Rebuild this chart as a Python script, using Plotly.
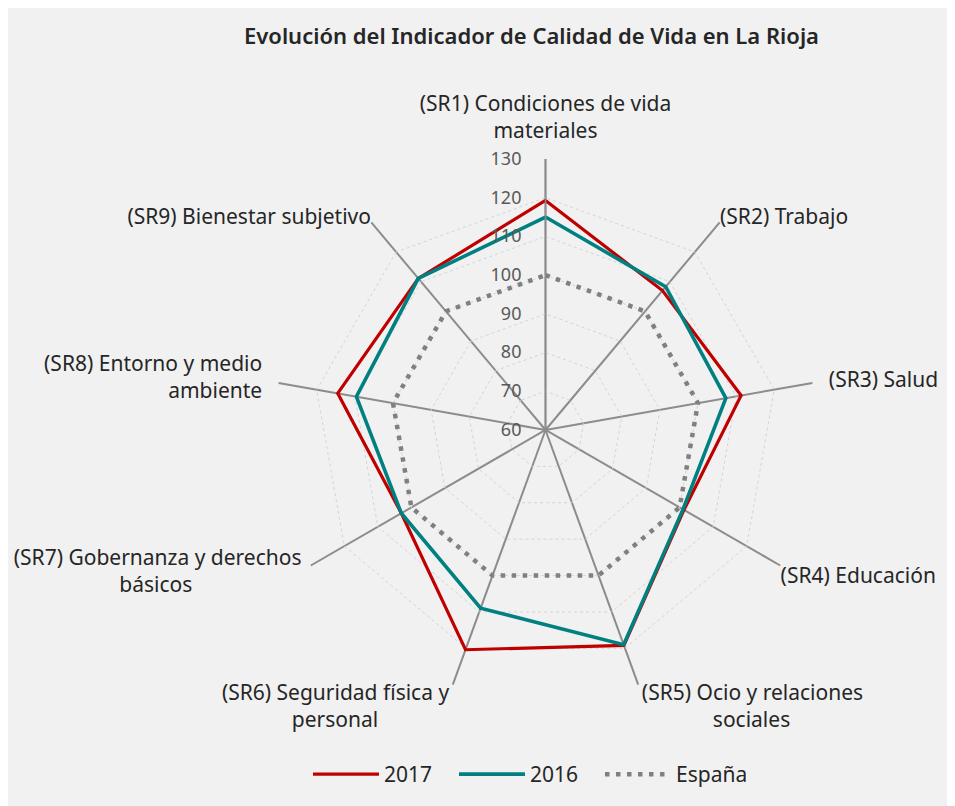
import plotly.graph_objects as go

categories = [
    "(SR1) Condiciones de vida<br>materiales",
    "(SR2) Trabajo",
    "(SR3) Salud",
    "(SR4) Educación",
    "(SR5) Ocio y relaciones<br>sociales",
    "(SR6) Seguridad física y<br>personal",
    "(SR7) Gobernanza y derechos<br>básicos",
    "(SR8) Entorno y medio<br>ambiente",
    "(SR9) Bienestar subjetivo",
]
values_2017 = [119.3, 107.0, 111.3, 101.3, 119.2, 120.4, 103.0, 114.5, 111.1]
values_2016 = [115.0, 108.3, 107.3, 101.0, 119.0, 109.0, 103.0, 109.6, 111.1]
values_espana = [100, 100, 100, 100, 100, 100, 100, 100, 100]
radial_ticks = [60, 70, 80, 90, 100, 110, 120, 130]

NB = "\u00a0"
# displayed label text (second lines padded so they look centred)
label_text = [
    "(SR1) Condiciones de vida<br>materiales",
    "(SR2) Trabajo",
    "(SR3) Salud",
    "(SR4) Educación",
    "(SR5) Ocio y relaciones<br>" + NB * 13 + "sociales",
    "(SR6) Seguridad física y<br>personal" + NB * 13,
    "(SR7) Gobernanza y derechos<br>básicos" + NB * 20,
    "(SR8) Entorno y medio<br>ambiente",
    "(SR9) Bienestar subjetivo",
]
# which label group each category belongs to (different label offsets)
group_main = [1, 3, 8]         # SR2, SR4, SR9
group_far = [0, 2, 7]          # SR1, SR3, SR8
group_low = [4, 5, 6]          # SR5, SR6, SR7

W, H = 947, 798
OFF = 8  # page body margin
SHIFT = 16
cx, cy, R = 545.5 - OFF, 430.0 - OFF, 271.4
side = 2 * R
ml = cx - R
mr = W - (cx + R)
mt = cy - R - SHIFT
mb = H - (cy + R)
ph = side + SHIFT


def px_x(px):
    return (px - OFF - ml) / side


def px_y(py):
    return (H - mb - (py - OFF)) / ph


def closed(v):
    return list(v) + [v[0]]


def texts_for(group):
    return [label_text[i] if i in group else "" for i in range(len(categories))]


cats_closed = closed(categories)
tick_text = [f"{v}{NB}{NB}{NB}\u2009" for v in radial_ticks]

fig = go.Figure()
fig.add_trace(go.Scatterpolar(
    r=closed(values_2017), theta=cats_closed, mode="lines", name="2017",
    line=dict(color="#c00000", width=3.2),
))
fig.add_trace(go.Scatterpolar(
    r=closed(values_2016), theta=cats_closed, mode="lines", name="2016",
    line=dict(color="#008080", width=3.6),
))
fig.add_trace(go.Scatterpolar(
    r=closed(values_espana), theta=cats_closed, mode="lines", name="España",
    line=dict(color="#808080", width=4.5, dash="4.5px,6.5px"),
))
for sub in ["polar2", "polar3"]:
    fig.add_trace(go.Scatterpolar(
        r=values_espana, theta=categories, mode="lines", subplot=sub,
        line=dict(width=0), opacity=0, showlegend=False, hoverinfo="skip",
    ))

dom_main = dict(x=[0, 1], y=[0, side / ph])
dom_low = dict(x=[0, 1], y=[SHIFT / ph, 1])
label_font = dict(size=21, color="#262626")


def overlay_polar(domain, group, ticklen):
    return dict(
        bgcolor="rgba(0,0,0,0)",
        gridshape="linear",
        domain=domain,
        radialaxis=dict(range=[60, 130], visible=False),
        angularaxis=dict(
            direction="clockwise", rotation=90,
            showline=False, showgrid=False,
            tickmode="array", tickvals=categories, ticktext=texts_for(group),
            tickfont=label_font,
            ticks="outside" if ticklen else "", ticklen=max(ticklen, 0.001),
            tickcolor="rgba(0,0,0,0)",
        ),
    )


fig.update_layout(
    width=W, height=H,
    margin=dict(l=ml, r=mr, t=mt, b=mb, autoexpand=False),
    paper_bgcolor="#f1f1f1",
    font=dict(family="Noto Sans", size=20, color="#262626"),
    title=dict(
        text="Evolución del Indicador de Calidad de Vida en La Rioja",
        x=(531.5 - OFF) / W, xref="container", xanchor="center",
        y=1 - (36 - OFF) / H, yref="container", yanchor="middle",
        font=dict(family="Noto Sans", size=22, color="#262626", weight=600),
    ),
    polar=dict(
        bgcolor="rgba(0,0,0,0)",
        gridshape="linear",
        domain=dom_main,
        radialaxis=dict(
            range=[60, 130], tickvals=radial_ticks, ticktext=tick_text,
            angle=90, tickangle=90,
            side="counterclockwise",
            showline=True, linecolor="#8c8c8c", linewidth=1.5,
            gridcolor="#d4d4d4", griddash="dot", gridwidth=1.2,
            tickfont=dict(size=18, color="#595959"), ticks="",
        ),
        angularaxis=dict(
            direction="clockwise", rotation=90,
            showline=False,
            gridcolor="#8c8c8c", gridwidth=1.5,
            tickmode="array", tickvals=categories,
            ticktext=texts_for(group_main),
            tickfont=label_font, ticks="",
        ),
    ),
    polar2=overlay_polar(dom_main, group_far, 12),
    polar3=overlay_polar(dom_low, group_low, 6),
    legend=dict(
        orientation="h", x=px_x(527), xanchor="center",
        y=px_y(775), yanchor="middle",
        font=dict(size=21, color="#262626"),
        bgcolor="rgba(0,0,0,0)",
        itemwidth=66, entrywidth=65,
    ),
)

fig.write_html("out.html")
